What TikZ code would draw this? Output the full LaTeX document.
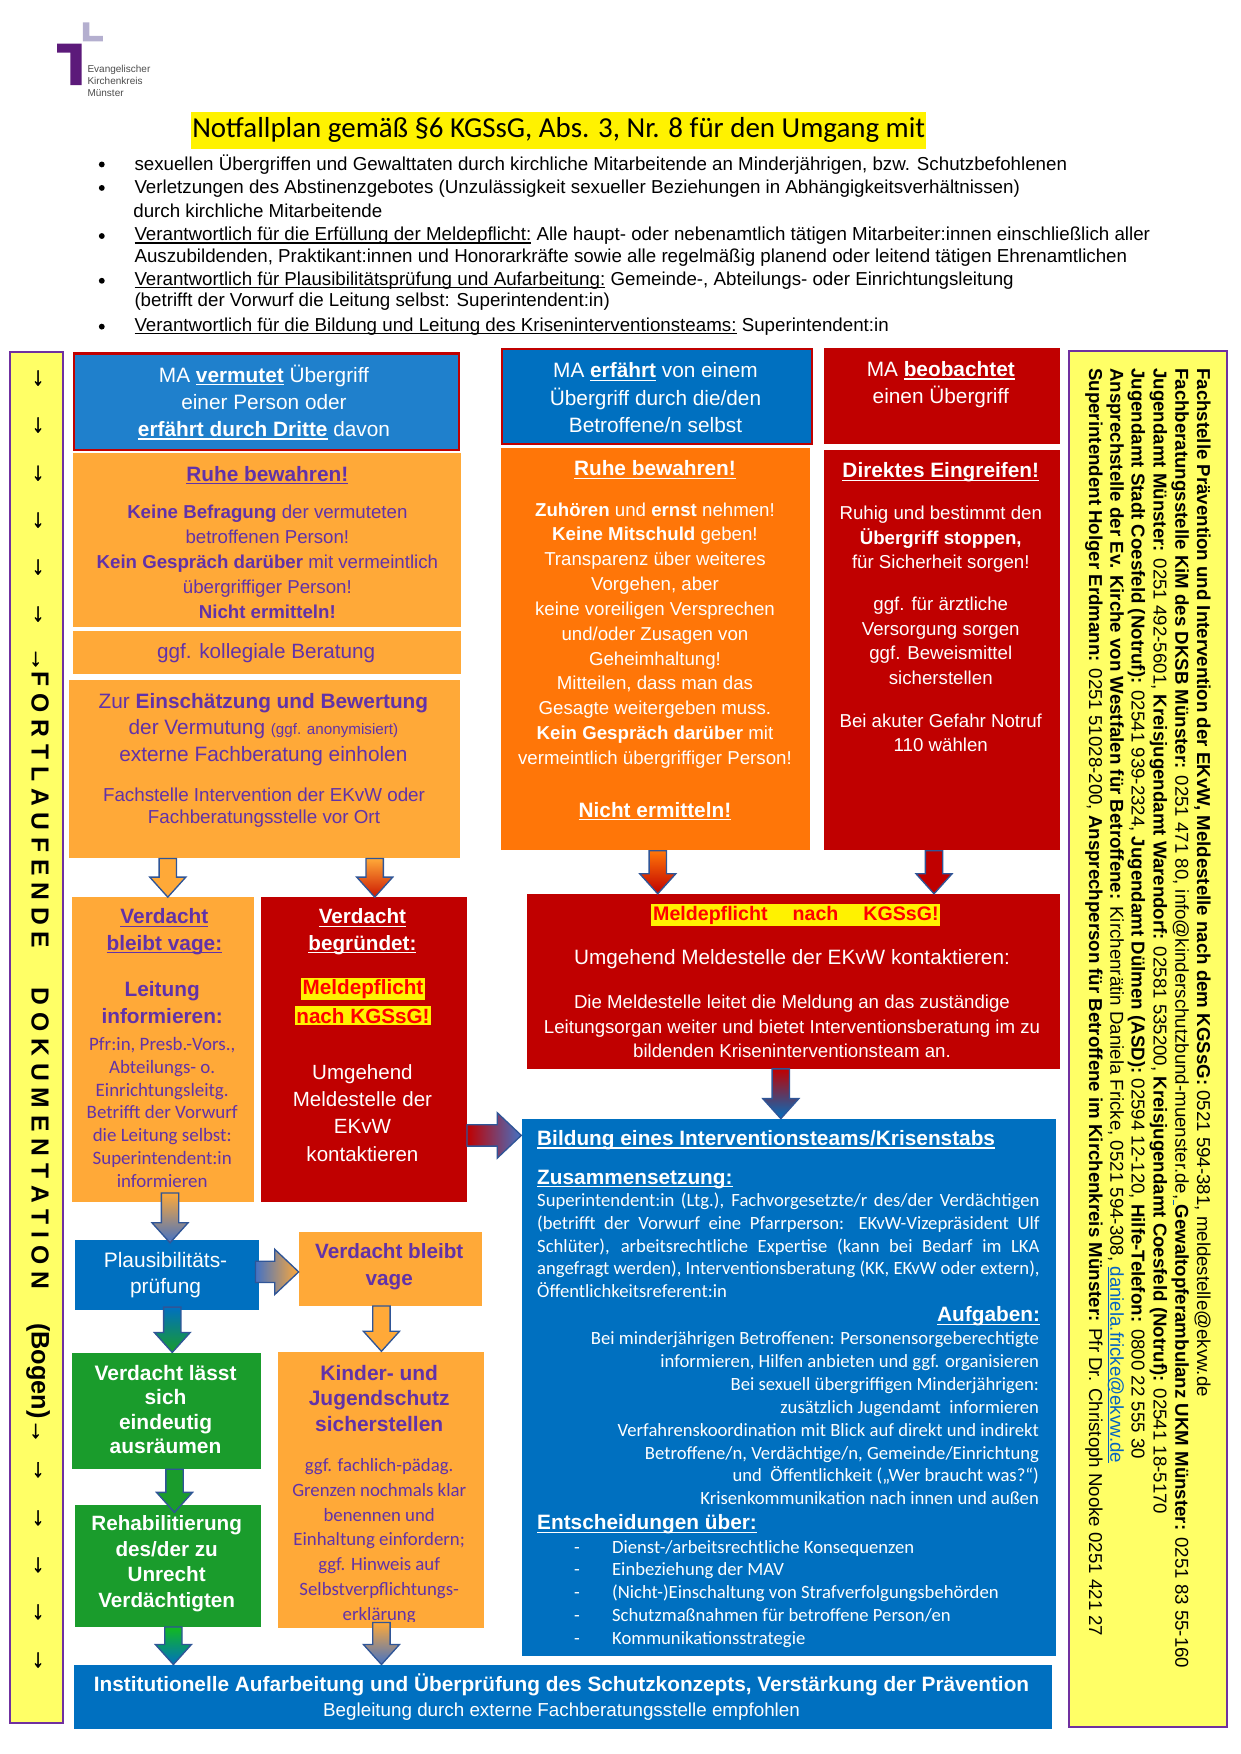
\documentclass[tikz,border=0pt]{standalone}
\usepackage{fontspec}
\usetikzlibrary{calc}
\setmainfont{Liberation Sans}
\newfontfamily\calib{Carlito}
\definecolor{boxor}{HTML}{FFA938}
\definecolor{purp}{HTML}{6232A8}
\definecolor{bordp}{HTML}{7030A0}
\definecolor{dkor}{HTML}{FF7608}
\definecolor{rd}{HTML}{C00000}
\definecolor{bl}{HTML}{0070C0}
\definecolor{bltwo}{HTML}{1F80CC}
\definecolor{gr}{HTML}{1A9C2C}
\definecolor{ylw}{HTML}{FFFF66}
\definecolor{arrowb}{HTML}{2F5597}
\definecolor{midbl}{HTML}{4472C4}
\definecolor{lnk}{HTML}{0563C1}
\definecolor{logot}{HTML}{5C1A7A}
\definecolor{logol}{HTML}{B4AFCF}
\newcommand{\fs}[2]{\fontsize{#1}{#2}\selectfont}
\newcommand{\uline}[1]{\leavevmode{\sbox0{#1}\rlap{\rule[-0.14em]{\wd0}{0.06em}}\usebox0}}
\newcommand{\bx}[6]{\node[#2,anchor=north west,minimum width={(#5-#3)*0.8387pt},minimum height={(#6-#4)*0.8387pt},inner sep=0pt] (#1) at (#3,#4) {};}
\newcommand{\varr}[4]{\path[draw=arrowb,line width=1pt,top color=#3,bottom color=#4] let \p1=(#1),\p2=(#2) in (\x1-6.5pt,\y1) -- (\x1+6.5pt,\y1) -- (\x1+6.5pt,\y2+15pt) -- (\x1+13.5pt,\y2+15pt) -- (\x1,\y2) -- (\x1-13.5pt,\y2+15pt) -- (\x1-6.5pt,\y2+15pt) -- cycle;}
\newcommand{\harr}[4]{\path[draw=arrowb,line width=1pt,left color=#3,right color=#4] let \p1=(#1),\p2=(#2) in (\x1,\y1-8pt) -- (\x1,\y1+8pt) -- (\x2-18pt,\y1+8pt) -- (\x2-18pt,\y1+17pt) -- (\x2,\y1) -- (\x2-18pt,\y1-17pt) -- (\x2-18pt,\y1-8pt) -- cycle;}
\newcommand{\jl}[1]{\makebox[376.6pt][s]{#1}}
\newcommand{\bu}[1]{\textbf{\uline{#1}}}
\newcommand{\li}[1]{\makebox[28.5pt][l]{-}#1}
\begin{document}
\begin{tikzpicture}[x=0.8387pt,y=-0.8387pt,
  orbox/.style={fill=boxor},
  dkbox/.style={fill=dkor},
  rdbox/.style={fill=rd},
  blbox/.style={fill=bl},
  grbox/.style={fill=gr},
  side/.style={fill=ylw,draw=bordp,line width=1.6pt},
  redblue/.style={fill=bl,draw=rd,line width=1.6pt},
  redblue2/.style={fill=bltwo,draw=rd,line width=1.6pt},
  tw/.style={text=white,align=center,inner sep=0pt},
  tp/.style={text=purp,align=center,inner sep=0pt},
  tl/.style={text=white,align=left,inner sep=0pt,anchor=north west},
  tr/.style={text=white,align=right,inner sep=0pt,anchor=north east},
  bl1/.style={anchor=west,inner sep=0pt,font=\fs{14.05}{16}},
  dot/.style={circle,fill=black,inner sep=0pt,minimum size=4.4pt},
  vert/.style={rotate=-90,anchor=west,inner sep=0pt,font=\fs{14}{15}},
  dn/.style={inner sep=0pt,font=\fontsize{19}{20}\selectfont\bfseries\addfontfeature{FakeBold=1.5}},
  hi/.style={fill=yellow,text=red,font=\fs{15.5}{17}\bfseries,inner sep=1.3pt}
]
\useasboundingbox (0,0) rectangle (1108.7,1568);
% logo
\fill[logot] (51,39) rectangle (73,47) (63,39) rectangle (73,76);
\fill[logol] (74,20) rectangle (80,37) (74,32) rectangle (92,37);
\node[anchor=north west,inner sep=0pt,align=left,text=black!70,font=\fs{7.5}{9.2}] (logotext) at (78,58) {Evangelischer\\Kirchenkreis\\Münster};
% title
\node[fill=yellow,minimum width=551pt,minimum height=27.5pt,inner sep=0pt,font=\calib\fs{21.7}{22}] (title) at (499.5,116.5) {\raisebox{-2pt}{Notfallplan gemäß §6 KGSsG, Abs. 3, Nr. 8 für den Umgang mit}};
% bullets
\node[dot] (d1) at (91,147) {};
\node[dot] (d2) at (91,168) {};
\node[dot] (d3) at (91,211) {};
\node[dot] (d4) at (91,251) {};
\node[dot] (d5) at (91,292) {};
\node[bl1] (b1) at (120,147) {sexuellen Übergriffen und Gewalttaten durch kirchliche Mitarbeitende an Minderjährigen, bzw. Schutzbefohlenen};
\node[bl1] (b2) at (120,168.5) {Verletzungen des Abstinenzgebotes (Unzulässigkeit sexueller Beziehungen in Abhängigkeitsverhältnissen)};
\node[bl1] (b2a) at (119,188.5) {durch kirchliche Mitarbeitende};
\node[bl1] (b3) at (120,211) {\uline{Verantwortlich für die Erfüllung der Meldepflicht:} Alle haupt- oder nebenamtlich tätigen Mitarbeiter:innen einschließlich aller};
\node[bl1] (b3a) at (120,230) {Auszubildenden, Praktikant:innen und Honorarkräfte sowie alle regelmäßig planend oder leitend tätigen Ehrenamtlichen};
\node[bl1] (b4) at (120,251) {\uline{Verantwortlich für Plausibilitätsprüfung und Aufarbeitung:} Gemeinde-, Abteilungs- oder Einrichtungsleitung};
\node[bl1] (b4a) at (120,270) {(betrifft der Vorwurf die Leitung selbst: Superintendent:in)};
\node[bl1] (b5) at (120,292) {\uline{Verantwortlich für die Bildung und Leitung des Kriseninterventionsteams:} Superintendent:in};
% boxes
\bx{leftbar}{side}{8}{314}{55}{1539}
\bx{rightbar}{side}{955}{313}{1096}{1543}
\bx{vermutet}{redblue2}{65}{315}{409}{401}
\bx{ruhe}{orbox}{65}{405}{412}{560}
\bx{koll}{orbox}{65}{564}{412}{602}
\bx{einsch}{orbox}{61}{608}{411}{767}
\bx{erfaehrt}{redblue}{448}{311}{725}{396}
\bx{beob}{rdbox}{736}{311}{947}{397}
\bx{ruhedk}{dkbox}{448}{400}{724}{760}
\bx{direkt}{rdbox}{736}{402}{947}{760}
\bx{vage}{orbox}{64}{802}{227}{1074}
\bx{begr}{rdbox}{233}{802}{417}{1074}
\bx{melde}{rdbox}{471}{799}{947}{955}
\bx{bildung}{blbox}{466}{1000}{944}{1480}
\bx{plausi}{blbox}{67}{1108}{231}{1171}
\bx{vagezwei}{orbox}{267}{1101}{431}{1167}
\bx{laesst}{grbox}{64}{1209}{233}{1313}
\bx{reha}{grbox}{67}{1345}{233}{1454}
\bx{kinder}{orbox}{248}{1208}{432}{1455}
\bx{instit}{blbox}{66}{1488}{940}{1545}
% texts, upper left
\node[tw,font=\fs{15.6}{20.4}] (vermutet-t) at (236,359.5) {MA \bu{vermutet} Übergriff\\einer Person oder\\\bu{erfährt durch Dritte} davon};
\node[tp,font=\fs{15.6}{17}] (ruhe-h) at (239,425) {\bu{Ruhe bewahren!}};
\node[tp,font=\fs{14}{18.8}] (ruhe-t) at (239,502) {\textbf{Keine Befragung} der vermuteten\\betroffenen Person!\\\textbf{Kein Gespräch darüber} mit vermeintlich\\übergriffiger Person!\\\textbf{Nicht ermitteln!}};
\node[tp,font=\fs{15.5}{17}] (koll-t) at (238,584) {ggf. kollegiale Beratung};
\node[tp,font=\fs{15.6}{20}] (einsch-t) at (235.5,652) {Zur \textbf{Einschätzung und Bewertung}\\der Vermutung {\fs{11.4}{13}(ggf. anonymisiert)}\\externe Fachberatung einholen};
\node[tp,font=\fs{14.1}{17}] (einsch-u) at (236,722) {Fachstelle Intervention der EKvW oder\\Fachberatungsstelle vor Ort};
% upper middle and right
\node[tw,font=\fs{15.6}{20.4}] (erfaehrt-t) at (586,355.5) {MA \bu{erfährt} von einem\\Übergriff durch die/den\\Betroffene/n selbst};
\node[tw,font=\fs{15.6}{20.4}] (beob-t) at (841,344) {MA \bu{beobachtet}\\einen Übergriff};
\node[tw,font=\fs{15.6}{17}] (ruhedk-h) at (585.5,420) {\bu{Ruhe bewahren!}};
\node[tw,font=\fs{14}{18.6}] (ruhedk-t) at (585.5,568) {\textbf{Zuhören} und \textbf{ernst} nehmen!\\\textbf{Keine Mitschuld} geben!\\Transparenz über weiteres\\Vorgehen, aber\\keine voreiligen Versprechen\\und/oder Zusagen von\\Geheimhaltung!\\Mitteilen, dass man das\\Gesagte weitergeben muss.\\\textbf{Kein Gespräch darüber} mit\\vermeintlich übergriffiger Person!};
\node[tw,font=\fs{15.6}{17}] (ruhedk-e) at (585.5,725) {\bu{Nicht ermitteln!}};
\node[tw,font=\fs{15.6}{17}] (direkt-h) at (841,422.5) {\bu{Direktes Eingreifen!}};
\node[tw,font=\fs{14}{18.6}] (direkt-a) at (841,482) {Ruhig und bestimmt den\\\textbf{Übergriff stoppen,}\\für Sicherheit sorgen!};
\node[tw,font=\fs{14}{18.5}] (direkt-b) at (841,573) {ggf. für ärztliche\\Versorgung sorgen\\ggf. Beweismittel\\sicherstellen};
\node[tw,font=\fs{14}{18.5}] (direkt-c) at (841,655) {Bei akuter Gefahr Notruf\\110 wählen};
% vage
\node[tp,font=\fs{15.6}{19.8}] (vage-h) at (147,833) {\bu{Verdacht}\\\bu{bleibt vage:}};
\node[tp,font=\bfseries\fs{15.6}{20}] (vage-l) at (145,896.5) {Leitung\\informieren:};
\node[tp,font=\calib\fs{14.2}{17.2}] (vage-t) at (145,994.5) {Pfr:in, Presb.-Vors.,\\Abteilungs- o.\\Einrichtungsleitg.\\Betrifft der Vorwurf\\die Leitung selbst:\\Superintendent:in\\informieren};
% begruendet
\node[tw,font=\fs{15.5}{19.8}] (begr-h) at (324,833) {\bu{Verdacht}\\\bu{begründet:}};
\node[hi] (begr-a) at (324.5,884) {Meldepflicht};
\node[hi] (begr-b) at (324.5,908) {nach KGSsG!};
\node[tw,font=\fs{15.4}{20.3}] (begr-t) at (324,995) {Umgehend\\Meldestelle der\\EKvW\\kontaktieren};
% melde
\node[hi,font=\fs{14.7}{17}\bfseries] (melde-h) at (711.5,818) {Meldepflicht\hspace{1em} nach\hspace{1em} KGSsG!};
\node[tw,font=\fs{15.55}{17}] (melde-a) at (708,857.5) {Umgehend Meldestelle der EKvW kontaktieren:};
\node[tw,font=\fs{14}{18.5}] (melde-b) at (708,917.5) {Die Meldestelle leitet die Meldung an das zuständige\\Leitungsorgan weiter und bietet Interventionsberatung im zu\\bildenden Kriseninterventionsteam an.};
% bildung
\node[tl,font=\bfseries\fs{15.6}{17}] (bil-h) at (480,1010.5) {\uline{Bildung eines Interventionsteams/Krisenstabs}};
\node[tl,font=\bfseries\fs{15.6}{17}] (bil-z) at (480,1045.5) {\uline{Zusammensetzung:}};
\node[tl,font=\calib\fs{14}{17.1}] (bil-zt) at (480,1066) {\jl{Superintendent:in (Ltg.), Fachvorgesetzte/r des/der Verdächtigen}\\\jl{(betrifft der Vorwurf eine Pfarrperson: EKvW-Vizepräsident Ulf}\\\jl{Schlüter), arbeitsrechtliche Expertise (kann bei Bedarf im LKA}\\\jl{angefragt werden), Interventionsberatung (KK, EKvW oder extern),}\\Öffentlichkeitsreferent:in};
\node[tr,font=\bfseries\fs{15.6}{17}] (bil-a) at (930,1168) {\uline{Aufgaben:}};
\node[tr,font=\calib\fs{14}{17.1}] (bil-at) at (929,1190.5) {Bei minderjährigen Betroffenen: Personensorgeberechtigte\\informieren, Hilfen anbieten und ggf. organisieren\\Bei sexuell übergriffigen Minderjährigen:\\zusätzlich Jugendamt\ \ informieren\\Verfahrenskoordination mit Blick auf direkt und indirekt\\Betroffene/n, Verdächtige/n, Gemeinde/Einrichtung\\und\ \ Öffentlichkeit („Wer braucht was?“)\\Krisenkommunikation nach innen und außen};
\node[tl,font=\bfseries\fs{15.6}{17}] (bil-e) at (480,1354) {\uline{Entscheidungen über:}};
\node[tl,font=\calib\fs{14}{17.1}] (bil-et) at (513,1376.5) {\li{Dienst-/arbeitsrechtliche Konsequenzen}\\\li{Einbeziehung der MAV}\\\li{(Nicht-)Einschaltung von Strafverfolgungsbehörden}\\\li{Schutzmaßnahmen für betroffene Person/en}\\\li{Kommunikationsstrategie}};
% lower left
\node[tw,font=\fs{15.7}{20}] (plausi-t) at (148,1140) {Plausibilitäts-\\prüfung};
\node[tp,font=\bfseries\fs{15.5}{20}] (vz-t) at (348,1132.5) {Verdacht bleibt\\vage};
\node[tw,font=\bfseries\fs{15.7}{18.1}] (laesst-t) at (148,1260) {Verdacht lässt\\sich\\eindeutig\\ausräumen};
\node[tw,font=\bfseries\fs{15.5}{19.2}] (reha-t) at (149,1398) {Rehabilitierung\\des/der zu\\Unrecht\\Verdächtigten};
\node[tp,font=\bfseries\fs{15.7}{19.3}] (kinder-h) at (339,1250) {Kinder- und\\Jugendschutz\\sicherstellen};
\begin{scope}
\clip (248,1290) rectangle (432,1449.5);
\node[tp,font=\calib\fs{14.1}{18.6}] (kinder-t) at (339,1377.5) {ggf. fachlich-pädag.\\Grenzen nochmals klar\\benennen und\\Einhaltung einfordern;\\ggf. Hinweis auf\\Selbstverpflichtungs-\\erklärung};
\end{scope}
\node[tw,font=\bfseries\fs{15.6}{17}] (instit-a) at (502,1506) {Institutionelle Aufarbeitung und Überprüfung des Schutzkonzepts, Verstärkung der Prävention};
\node[tw,font=\fs{14.1}{15}] (instit-b) at (502,1530.5) {Begleitung durch externe Fachberatungsstelle empfohlen};
% left bar
\node[dn] (p1) at (34,338) {↓};
\node[dn] (p2) at (34,380) {↓};
\node[dn] (p3) at (34,423) {↓};
\node[dn] (p4) at (34,465) {↓};
\node[dn] (p5) at (34,507) {↓};
\node[dn] (p6) at (34,549) {↓};
\node[rotate=-90,anchor=west,inner sep=0pt,font=\fontsize{18.5}{20}\selectfont\bfseries] (fort) at (34,578) {{\addfontfeature{FakeBold=1.5}→}F O R T L A U F E N D E\ \ \ \hspace{14pt}D O K U M E N T A T I O N\ \ \ \hspace{10pt}{\fontsize{19}{20}\selectfont(Bogen)}{\addfontfeature{FakeBold=1.5}→}};
\node[dn] (p7) at (34,1314) {↓};
\node[dn] (p8) at (34,1357) {↓};
\node[dn] (p9) at (34,1399) {↓};
\node[dn] (p10) at (34,1441) {↓};
\node[dn] (p11) at (34,1484) {↓};
% right bar
\node[vert] (r1) at (1075,329) {\textbf{Fachstelle Prävention und Intervention der EKvW, Meldestelle nach dem KGSsG:} 0521 594-381, meldestelle@ekvw.de};
\node[vert] (r2) at (1055,329) {\textbf{Fachberatungsstelle KiM des DKSB Münster:} 0251 471 80, info@kinderschutzbund-muenster.de,\textcolor{lnk}{\uline{\ }}\textbf{Gewaltopferambulanz UKM Münster:} 0251 83 55-160};
\node[vert] (r3) at (1035.5,329) {\textbf{Jugendamt Münster:} 0251 492-5601, \textbf{Kreisjugendamt Warendorf:} 02581 535200, \textbf{Kreisjugendamt Coesfeld (Notruf):} 02541 18-5170};
\node[vert] (r4) at (1016,329) {\textbf{Jugendamt Stadt Coesfeld (Notruf):} 02541 939-2324, \textbf{Jugendamt Dülmen (ASD):} 02594 12-120, \textbf{Hilfe-Telefon:} 0800 22 555 30};
\node[vert] (r5) at (997,329) {\textbf{Ansprechstelle der Ev. Kirche von Westfalen für Betroffene:} Kirchenrätin Daniela Fricke, 0521 594-308, \textcolor{lnk}{\uline{daniela.fricke@ekvw.de}}};
\node[vert] (r6) at (978,329) {\textbf{Superintendent Holger Erdmann:} 0251 51028-200, \textbf{Ansprechperson für Betroffene im Kirchenkreis Münster:} Pfr Dr. Christoph Nooke 0251 421 27};
% block arrows
\varr{einsch.south -| 150,0}{vage.north -| 150,0}{boxor}{boxor}
\varr{einsch.south -| 335,0}{begr.north -| 335,0}{boxor}{rd!80!dkor}
\varr{ruhedk.south -| 588,0}{melde.north -| 588,0}{dkor}{rd}
\varr{direkt.south -| 835,0}{melde.north -| 835,0}{rd}{rd}
\varr{melde.south -| 698,0}{bildung.north -| 698,0}{rd}{bl}
\harr{begr.east |- 0,1015}{bildung.west |- 0,1015}{rd}{midbl}
\varr{$(vage.south -| 152,0)+(0,-8)$}{$(plausi.north -| 152,0)+(0,3)$}{boxor}{midbl}
\harr{$(plausi.east |- 0,1137)+(-3,0)$}{vagezwei.west |- 0,1137}{midbl}{boxor}
\varr{$(plausi.south -| 154,0)+(0,-3)$}{laesst.north -| 154,0}{bl}{gr}
\varr{vagezwei.south -| 341,0}{kinder.north -| 341,0}{boxor}{boxor}
\varr{laesst.south -| 156,0}{$(reha.north -| 156,0)+(0,7)$}{gr}{gr}
\varr{reha.south -| 155,0}{instit.north -| 155,0}{gr!70!green}{bl}
\varr{$(kinder.south -| 341,0)+(0,-5)$}{instit.north -| 341,0}{boxor}{midbl}
\end{tikzpicture}
\end{document}
